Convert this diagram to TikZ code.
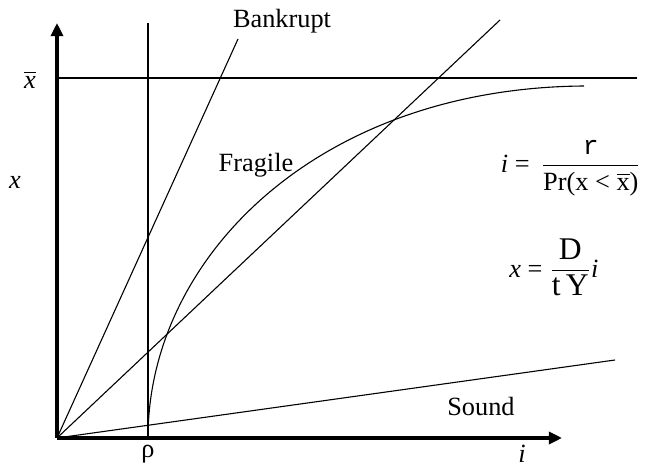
\documentclass[tikz,border=0pt,12pt]{standalone}
\usepackage{fontspec}
\usepackage{amsmath}
\setmainfont{Liberation Serif}
\setmonofont{Liberation Mono}
\usetikzlibrary{arrows.meta}

\begin{document}
\begin{tikzpicture}[x=0.456pt, y=0.456pt,
    axis/.style={line width=1.4pt, -{Triangle[length=6pt, width=5.5pt]}},
    curve/.style={line width=0.5pt}]
    \useasboundingbox (-57,-28) rectangle (588,438);
    
    % 原点
    \coordinate (O) at (0,0);
    
    % 绘制坐标轴
    \draw[axis] (O) -- (505,0) coordinate (iend);
    \draw[axis] (O) -- (0,415) coordinate (xend);
    \node[inner sep=1pt] (ilabel) at (465,-16) {\textit{i}};
    \node (xlabel) at (-42,256) {\textit{x}};
    
    % 上限 \bar{x}（水平线）
    \coordinate (xbarL) at (0,360);
    \coordinate (xbarR) at (580,360);
    \draw[curve] (xbarL) -- (xbarR);
    \node (xbar) at (-27,358) {$\overline{\text{\itshape x}}$};
    
    % \rho 处的垂直线
    \coordinate (rho) at (91,0);
    \coordinate (rhotop) at (91,415);
    \draw[curve] (rho) -- (rhotop);
    \node (rholabel) at (91,-16) {ρ};
    
    % 三条过原点的直线
    \draw[curve] (O) -- (181,399) coordinate (bend);
    \draw[curve] (O) -- (443,418) coordinate (dend);
    \draw[curve] (O) -- (558,78) coordinate (send);
    
    % 曲线：从 \rho 垂直起步，趋近 \bar{x}
    \coordinate (cend) at (527,352);
    \draw[curve] (rho) .. controls (91,180) and (260,350) .. (cend);
    
    % 区域标签
    \node (bankrupt) at (225,417) {Bankrupt};
    \node (fragile) at (199,273) {Fragile};
    \node (sound) at (424,31) {Sound};
    
    % 公式
    \node (ieq) at (514,270) {\textit{i} = \,$\dfrac{\text{\texttt{r}}}{\text{Pr(x < $\overline{\text{x}}$)}}$};
    \node (xeq) at (497,171) {\textit{x} = $\dfrac{\text{\large D}}{\text{\large t\,Y}}$\textit{i}};
\end{tikzpicture}
\end{document}
